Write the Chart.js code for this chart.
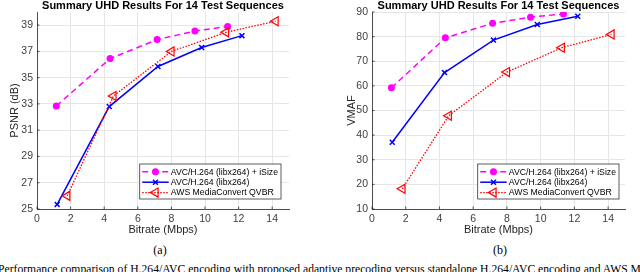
<!DOCTYPE html>
<html>
<head>
<meta charset="utf-8">
<script src="https://cdn.jsdelivr.net/npm/chart.js@4.4.0/dist/chart.umd.min.js"></script>
<style>
  html, body { margin: 0; padding: 0; background: #fff; }
  body { width: 640px; height: 272px; position: relative; overflow: hidden; }
  .panel { position: absolute; top: 0; width: 320px; height: 240px; }
  .sub { position: absolute; top: 242px; width: 40px; text-align: center; font: 12px "Liberation Serif", "Times New Roman", serif; line-height: 16px; color: #000; }
  .caption { position: absolute; left: -2px; top: 261.5px; white-space: nowrap; font: 11.65px "Liberation Serif", "Times New Roman", serif; line-height: 15px; color: #000; }
</style>
</head>
<body>
<div class="panel" style="left:0"><canvas id="chart-psnr"></canvas></div>
<div class="panel" style="left:320px"><canvas id="chart-vmaf"></canvas></div>
<div class="sub" style="left:140px">(a)</div>
<div class="sub" style="left:480px">(b)</div>
<div class="caption">Performance comparison of H.264/AVC encoding with proposed adaptive precoding versus standalone H.264/AVC encoding and AWS MediaConvert</div>
<script>
// ── data ─────────────────────────────────────────────
const TITLE = 'Summary UHD Results For 14 Test Sequences';
const SERIES_LABELS = ['AVC/H.264 (libx264) + iSize', 'AVC/H.264 (libx264)', 'AWS MediaConvert QVBR'];

const isizeRate = [1.15, 4.35, 7.15, 9.4, 11.35];
const avcRate   = [1.2, 4.3, 7.2, 9.8, 12.2];
const awsRate   = [1.8, 4.55, 8.0, 11.25, 14.2];

const isizePsnr = [32.85, 36.45, 37.9, 38.55, 38.9];
const avcPsnr   = [25.35, 32.8, 35.85, 37.3, 38.2];
const awsPsnr   = [26.0, 33.6, 37.0, 38.45, 39.3];

const isizeVmaf = [59.2, 79.5, 85.4, 87.9, 89.2];
const avcVmaf   = [37.1, 65.4, 78.6, 84.9, 88.3];
const awsVmaf   = [18.2, 47.9, 65.6, 75.5, 80.9];

const rateTicks = [0, 2, 4, 6, 8, 10, 12, 14];
const psnrTicks = [25, 27, 29, 31, 33, 35, 37, 39];
const vmafTicks = [10, 20, 30, 40, 50, 60, 70, 80, 90];

const FONT = '"Liberation Sans", Arial, Helvetica, sans-serif';
Chart.defaults.font.family = FONT;

const toPts = (xs, ys) => xs.map((x, i) => ({ x, y: ys[i] }));

function makeDatasets(isizeY, avcY, awsY) {
  return [
    { label: SERIES_LABELS[0], data: toPts(isizeRate, isizeY), borderColor: '#ff00ff', backgroundColor: '#ff00ff',
      borderWidth: 1.5, borderDash: [6, 4], pointStyle: 'circle', pointRadius: 3.5, pointBorderWidth: 0, order: 3 },
    { label: SERIES_LABELS[1], data: toPts(avcRate, avcY), borderColor: '#0000ff', backgroundColor: '#0000ff',
      borderWidth: 1.5, pointStyle: 'crossRot', pointRadius: 3.5, pointBorderWidth: 1.5, order: 2 },
    { label: SERIES_LABELS[2], data: toPts(awsRate, awsY), borderColor: '#ff0000', backgroundColor: 'rgba(0,0,0,0)',
      borderWidth: 1.3, borderDash: [1.5, 1.5], pointStyle: 'triangle', pointRotation: -90, pointRadius: 5.2, pointBorderWidth: 1.2, order: 1 },
  ];
}

// title centred over the plot area, like the matlab axes title
const areaTitle = {
  id: 'areaTitle',
  afterDraw(chart, args, opts) {
    const { ctx, chartArea: ca } = chart;
    ctx.save();
    ctx.font = 'bold 11px ' + FONT;
    ctx.fillStyle = '#000';
    ctx.textAlign = 'center';
    ctx.textBaseline = 'middle';
    ctx.fillText(opts.text, (ca.left + ca.right) / 2, opts.y);
    ctx.restore();
  },
};

// short inward tick marks on the left and bottom axes
const innerTicks = {
  id: 'innerTicks',
  afterDatasetsDraw(chart) {
    const { ctx, chartArea: ca, scales } = chart;
    ctx.save();
    ctx.strokeStyle = '#262626';
    ctx.lineWidth = 0.8;
    ctx.beginPath();
    scales.x.ticks.forEach(t => {
      const px = scales.x.getPixelForValue(t.value);
      ctx.moveTo(px, ca.bottom);
      ctx.lineTo(px, ca.bottom - 2.5);
    });
    scales.y.ticks.forEach(t => {
      const py = scales.y.getPixelForValue(t.value);
      ctx.moveTo(ca.left, py);
      ctx.lineTo(ca.left + 2.5, py);
    });
    ctx.stroke();
    ctx.restore();
  },
};

// boxed legend inside the plot, bottom right
const insideLegend = {
  id: 'insideLegend',
  afterDatasetsDraw(chart, args, opts) {
    const { ctx, chartArea: ca } = chart;
    const sets = chart.data.datasets;
    ctx.save();
    ctx.font = '8.7px ' + FONT;
    const textW = Math.max(...sets.map(d => ctx.measureText(d.label).width));
    const w = 2.5 + 26.5 + 2 + textW + 3;
    const h = 35;
    const x = ca.right - opts.right - w;
    const y = ca.bottom - opts.bottom - h;
    ctx.fillStyle = '#fff';
    ctx.fillRect(x, y, w, h);
    ctx.strokeStyle = '#262626';
    ctx.lineWidth = 0.75;
    ctx.strokeRect(x, y, w, h);
    sets.forEach((d, i) => {
      const cy = y + 7.8 + i * 10.4;
      ctx.beginPath();
      ctx.setLineDash(d.borderDash || []);
      ctx.strokeStyle = d.borderColor;
      ctx.lineWidth = d.borderWidth;
      ctx.moveTo(x + 2.5, cy);
      ctx.lineTo(x + 29, cy);
      ctx.stroke();
      ctx.setLineDash([]);
      ctx.fillStyle = d.backgroundColor;
      ctx.strokeStyle = d.borderColor;
      ctx.lineWidth = d.pointBorderWidth;
      Chart.helpers.drawPoint(ctx, { pointStyle: d.pointStyle, rotation: d.pointRotation || 0, radius: d.pointRadius, borderWidth: d.pointBorderWidth }, x + 15.75, cy);
      ctx.fillStyle = '#000';
      ctx.textAlign = 'left';
      ctx.textBaseline = 'middle';
      ctx.fillText(d.label, x + 31, cy + 0.5);
    });
    ctx.restore();
  },
};

function buildChart(canvasId, datasets, yTitle, yMin, yMax, yTicks, yAxisWidth, yTitlePad, padRight, legendPos) {
  const ctx = document.getElementById(canvasId);
  return new Chart(ctx, {
    type: 'line',
    data: { datasets },
    plugins: [areaTitle, innerTicks, insideLegend],
    options: {
      responsive: true, maintainAspectRatio: false, animation: false,
      layout: { padding: { top: 12, left: 0, right: padRight, bottom: 3 } },
      plugins: {
        legend: { display: false },
        tooltip: { enabled: false },
        areaTitle: { text: TITLE, y: 5.5 },
        insideLegend: legendPos,
      },
      scales: {
        x: {
          type: 'linear', min: 0, max: 15,
          afterBuildTicks: s => { s.ticks = rateTicks.map(v => ({ value: v })); },
          afterFit: s => { s.height = 28; },
          ticks: { color: '#404040', font: { size: 10.5 }, padding: 3.5, maxRotation: 0 },
          grid: { color: '#e6e6e6', drawTicks: false },
          border: { color: '#262626', width: 0.8 },
          title: { display: true, text: 'Bitrate (Mbps)', color: '#262626', font: { size: 11 }, padding: { top: 0, bottom: 0 } },
        },
        y: {
          type: 'linear', min: yMin, max: yMax,
          afterBuildTicks: s => { s.ticks = yTicks.map(v => ({ value: v })); },
          afterFit: s => { s.width = yAxisWidth; },
          ticks: { color: '#404040', font: { size: 10.5 }, padding: 4 },
          grid: { color: '#e6e6e6', drawTicks: false },
          border: { color: '#262626', width: 0.8 },
          title: { display: true, text: yTitle, color: '#262626', font: { size: 11 }, padding: { top: yTitlePad, bottom: 0 } },
        },
      },
    },
  });
}

buildChart('chart-psnr', makeDatasets(isizePsnr, avcPsnr, awsPsnr), 'PSNR (dB)', 25, 40, psnrTicks, 37, 8.5, 31, { right: 8, bottom: 10 });
buildChart('chart-vmaf', makeDatasets(isizeVmaf, avcVmaf, awsVmaf), 'VMAF', 10, 90, vmafTicks, 52, 25.5, 15, { right: 6, bottom: 10 });
</script>
</body>
</html>
